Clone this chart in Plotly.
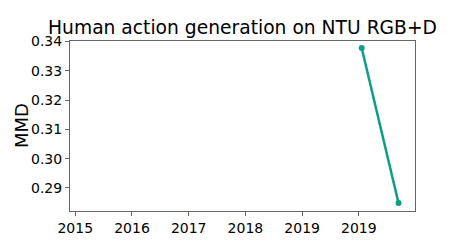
import plotly.graph_objects as go

# Data
years = [2020.05, 2020.70]
mmd = [0.3378, 0.2848]
tick_vals = [2015, 2016, 2017, 2018, 2019, 2020]
tick_text = ["2015", "2016", "2017", "2018", "2019", "2019"]
y_ticks = [0.29, 0.30, 0.31, 0.32, 0.33, 0.34]
y_text = ["0.29", "0.30", "0.31", "0.32", "0.33", "0.34"]

color = "#0e9e87"
font = "DejaVu Sans"

fig = go.Figure()
fig.add_trace(go.Scatter(
    x=years, y=mmd, mode="lines+markers",
    line=dict(color=color, width=2.5),
    marker=dict(color=color, size=6),
    showlegend=False,
))

axis_common = dict(
    showline=True, linecolor="#666666", linewidth=1, mirror=True,
    ticks="outside", ticklen=4, tickcolor="#666666", tickwidth=1,
    showgrid=False, zeroline=False,
    tickfont=dict(family=font, size=14, color="#000000"),
)

fig.update_layout(
    width=474, height=250,
    margin=dict(l=70, r=59, t=41, b=39),
    paper_bgcolor="white", plot_bgcolor="white",
    font=dict(family=font, color="#000000"),
    title=dict(
        text="Human action generation on NTU RGB+D",
        font=dict(family=font, size=18.7, color="#000000"),
        x=0.5, xref="paper", xanchor="center",
        y=1, yref="paper", yanchor="bottom",
        pad=dict(b=7),
    ),
    xaxis=dict(range=[2014.907, 2020.99], tickvals=tick_vals, ticktext=tick_text, **axis_common),
    yaxis=dict(range=[0.2821, 0.3402], tickvals=y_ticks, ticktext=y_text, **axis_common),
    annotations=[dict(
        text="MMD", textangle=-90, showarrow=False,
        xref="paper", yref="paper", x=0, y=0.5,
        xanchor="center", yanchor="middle", xshift=-49,
        font=dict(family=font, size=18, color="#000000"),
    )],
)

fig.write_html("out.html")
